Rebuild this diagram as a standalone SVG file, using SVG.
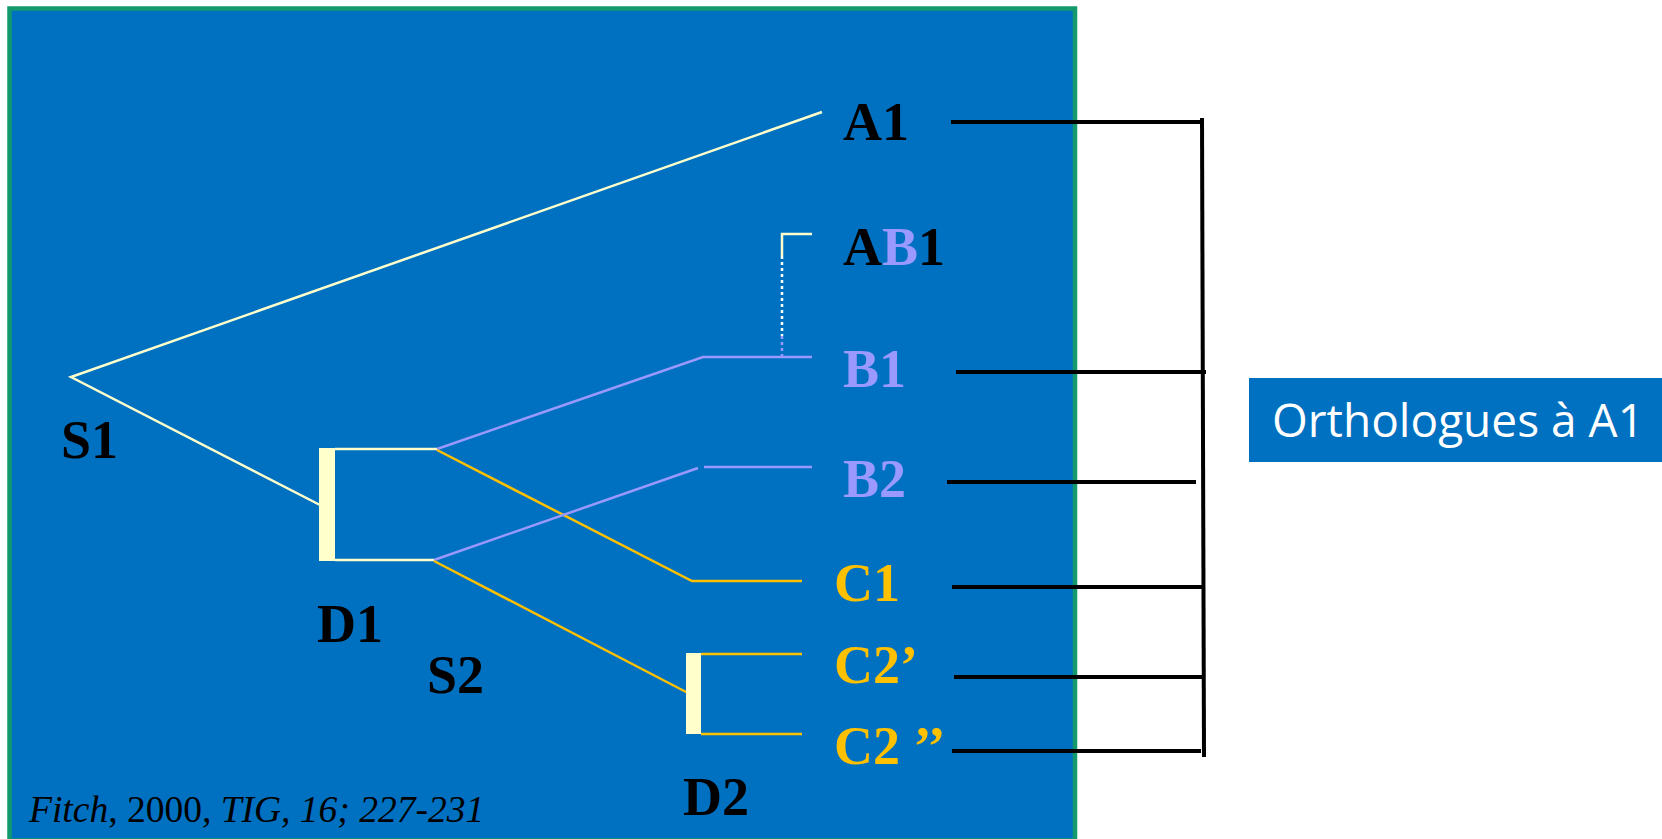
<svg xmlns="http://www.w3.org/2000/svg" width="1662" height="839" viewBox="0 0 1662 839">
  <style>
    .lbl { font-family: "Liberation Serif", "Times New Roman", serif; font-weight: bold; font-size: 54px; }
    .blk { fill: #000000; }
    .pur { fill: #9999FF; }
    .yel { fill: #FFC000; }
    .wl { stroke: #FFFFCC; stroke-width: 2.5; fill: none; }
    .pl { stroke: #9999FF; stroke-width: 2.5; fill: none; }
    .yl { stroke: #FFC000; stroke-width: 2.5; fill: none; }
    .bl { stroke: #000000; stroke-width: 4; fill: none; }
    .bar { fill: #FFFFCC; }
  </style>
  <rect x="0" y="0" width="1662" height="839" fill="#FFFFFF"/>
  <rect id="panel" x="9.5" y="8.5" width="1065.5" height="832" fill="#0070C0" stroke="#129A6C" stroke-width="4.5"/>

  <g id="connectors">
    <!-- species tree -->
    <polyline class="wl" points="822,112 71,377 320,505"/>
    <rect class="bar" x="319" y="448" width="16" height="113"/>
    <line class="wl" x1="335" y1="449" x2="437" y2="449"/>
    <line class="wl" x1="335" y1="560" x2="434" y2="560"/>
    <polyline class="pl" points="437,449 703,357 812,357"/>
    <polyline class="yl" points="437,450 692,581 802,581"/>
    <polyline class="pl" points="434,560 698,468"/>
    <line class="pl" x1="704" y1="467" x2="812" y2="467"/>
    <line class="yl" x1="434" y1="561" x2="688" y2="693"/>
    <rect class="bar" x="686" y="653" width="15" height="81"/>
    <line class="yl" x1="701" y1="654" x2="802" y2="654"/>
    <line class="yl" x1="701" y1="734" x2="802" y2="734"/>
    <!-- AB1 link -->
    <polyline class="wl" points="812,234 782,234 782,256"/>
    <line x1="782" y1="256" x2="782" y2="336" stroke="#FFFFFF" stroke-width="2.5" stroke-dasharray="3,3"/>
    <line x1="782" y1="336" x2="782" y2="356" stroke="#9999FF" stroke-width="2.5" stroke-dasharray="3,3"/>
    <!-- orthologue bracket -->
    <line class="bl" x1="951" y1="122" x2="1204" y2="122"/>
    <line class="bl" x1="956" y1="372" x2="1206" y2="372"/>
    <line class="bl" x1="947" y1="482" x2="1196" y2="482"/>
    <line class="bl" x1="952" y1="587" x2="1203" y2="587"/>
    <line class="bl" x1="954" y1="677" x2="1203" y2="677"/>
    <line class="bl" x1="952" y1="751" x2="1201" y2="751"/>
    <line class="bl" x1="1202" y1="118" x2="1204" y2="757"/>
  </g>

  <g id="A1"><text class="lbl blk" x="843" y="140">A1</text></g>
  <g id="AB1"><text class="lbl blk" x="843" y="265">A<tspan class="pur">B</tspan>1</text></g>
  <g id="B1"><text class="lbl pur" x="843" y="387">B1</text></g>
  <g id="B2"><text class="lbl pur" x="843" y="497">B2</text></g>
  <g id="C1"><text class="lbl yel" x="834" y="601">C1</text></g>
  <g id="C2p"><text class="lbl yel" x="834" y="683">C2’</text></g>
  <g id="C2pp"><text class="lbl yel" x="834" y="764">C2 ’’</text></g>
  <g id="S1"><text class="lbl blk" x="61" y="458">S1</text></g>
  <g id="D1"><text class="lbl blk" x="317" y="642">D1</text></g>
  <g id="S2"><text class="lbl blk" x="427" y="693">S2</text></g>
  <g id="D2"><text class="lbl blk" x="683" y="815">D2</text></g>

  <g id="citation">
    <text x="29" y="822" font-family="Liberation Serif, Times New Roman, serif" font-size="37.5" fill="#000000"><tspan font-style="italic">Fitch</tspan>, 2000<tspan font-style="italic">, TIG, 16; 227-231</tspan></text>
  </g>

  <g id="orthologues">
    <rect x="1249" y="378" width="413" height="84" fill="#0070C0"/>
    <text x="1272" y="437" font-family="Open Sans, Noto Sans, sans-serif" font-size="46" fill="#FFFFFF">Orthologues à A1</text>
  </g>
</svg>
